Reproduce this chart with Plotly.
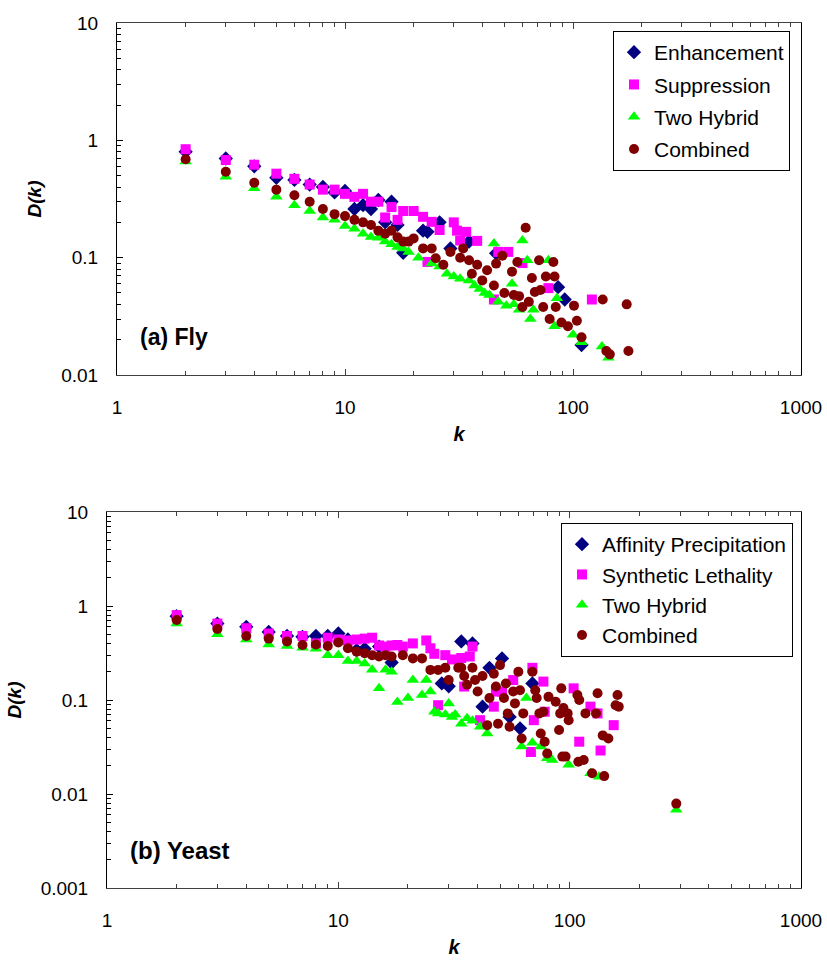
import plotly.graph_objects as go

# ---------------- Fly network: degree k vs D(k) ----------------
fly_enh_k = [2, 3, 4, 5, 6, 7, 8, 9, 10, 11, 12, 13, 14, 15, 16, 17, 18, 22, 23, 26, 29, 35, 46, 86, 92, 109]
fly_enh_d = [0.80, 0.70, 0.60, 0.48, 0.46, 0.42, 0.40, 0.36, 0.37, 0.26, 0.28, 0.26, 0.31, 0.20, 0.30, 0.19,
             0.11, 0.17, 0.166, 0.20, 0.12, 0.137, 0.109, 0.056, 0.044, 0.018]

fly_sup_k = [2, 3, 4, 5, 6, 7, 8, 9, 10, 11, 12, 13, 14, 15, 16, 17, 18, 20, 22, 23, 24, 26, 30, 31, 32, 34,
             38, 45, 47, 52, 60, 78, 121]
fly_sup_d = [0.84, 0.68, 0.62, 0.52, 0.47, 0.42, 0.38, 0.38, 0.35, 0.33, 0.35, 0.30, 0.30, 0.22, 0.27, 0.21,
             0.25, 0.25, 0.223, 0.092, 0.202, 0.172, 0.20, 0.17, 0.14, 0.166, 0.139, 0.044, 0.112, 0.112,
             0.09, 0.055, 0.044]

fly_y2h_k = [2, 3, 4, 5, 6, 7, 8, 9, 10, 11, 12, 13, 14, 15, 16, 17, 18, 19, 21, 24, 26, 28, 30, 32, 35, 37,
             39, 41, 43, 45, 47, 51, 54, 55, 58, 60, 63, 65, 67, 78, 83, 85, 100, 109, 134, 143]
fly_y2h_d = [0.66, 0.49, 0.39, 0.33, 0.28, 0.25, 0.22, 0.21, 0.186, 0.176, 0.16, 0.15, 0.148, 0.137, 0.13,
             0.123, 0.12, 0.112, 0.10, 0.089, 0.084, 0.073, 0.069, 0.066, 0.064, 0.058, 0.054, 0.05, 0.048,
             0.132, 0.042, 0.039, 0.06, 0.04, 0.036, 0.14, 0.095, 0.03, 0.036, 0.095, 0.026, 0.045, 0.022,
             0.019, 0.0175, 0.014]

fly_all_k = [2, 3, 4, 5, 6, 7, 8, 9, 10, 11, 12, 13, 14, 15, 16, 17, 18, 19, 20, 22, 24, 25, 27, 29, 32, 33,
             35, 36, 38, 40, 42, 45, 46, 49, 50, 54, 55, 57, 58, 60, 62, 64, 66, 68, 71, 72, 74, 76, 79, 82,
             83, 84, 89, 95, 101, 104, 109, 135, 140, 145, 172, 175]
fly_all_d = [0.69, 0.54, 0.435, 0.38, 0.34, 0.30, 0.26, 0.235, 0.226, 0.21, 0.20, 0.19, 0.17, 0.16, 0.17,
             0.149, 0.137, 0.137, 0.146, 0.12, 0.12, 0.099, 0.087, 0.112, 0.10, 0.12, 0.095, 0.073, 0.087,
             0.064, 0.078, 0.058, 0.089, 0.104, 0.05, 0.076, 0.048, 0.092, 0.047, 0.038, 0.18, 0.042, 0.067,
             0.051, 0.095, 0.053, 0.038, 0.069, 0.03, 0.092, 0.069, 0.038, 0.028, 0.026, 0.039, 0.029, 0.021,
             0.044, 0.016, 0.015, 0.040, 0.016]

# ---------------- Yeast network: degree k vs D(k) ----------------
yst_aff_k = [2, 3, 4, 5, 6, 7, 8, 9, 10, 11, 12, 13, 15, 17, 28, 30, 34, 38, 42, 45, 51, 55, 61, 69]
yst_aff_d = [0.78, 0.65, 0.60, 0.53, 0.48, 0.47, 0.48, 0.48, 0.51, 0.44, 0.34, 0.35, 0.37, 0.25, 0.15, 0.14,
             0.42, 0.40, 0.085, 0.22, 0.277, 0.066, 0.05, 0.15]

yst_syn_k = [2, 3, 4, 5, 6, 7, 8, 9, 10, 11, 12, 13, 14, 15, 16, 17, 18, 19, 21, 24, 25, 26, 27, 29, 31, 34,
             35, 37, 38, 41, 47, 48, 51, 57, 68, 69, 70, 77, 78, 104, 110, 123, 132, 136, 155]
yst_syn_d = [0.80, 0.65, 0.58, 0.51, 0.48, 0.48, 0.40, 0.46, 0.44, 0.43, 0.44, 0.45, 0.46, 0.38, 0.37, 0.38,
             0.385, 0.37, 0.40, 0.43, 0.355, 0.31, 0.088, 0.30, 0.27, 0.28, 0.139, 0.29, 0.37, 0.061, 0.085,
             0.123, 0.123, 0.163, 0.028, 0.22, 0.061, 0.157, 0.075, 0.133, 0.036, 0.085, 0.072, 0.029, 0.054]

yst_y2h_k = [2, 3, 4, 5, 6, 7, 8, 9, 10, 11, 12, 13, 14, 15, 16, 17, 18, 20, 21, 23, 24, 25, 26, 27, 29, 30,
             31, 32, 34, 36, 38, 41, 44, 62, 65, 69, 75, 80, 84, 99, 123, 134, 289]
yst_y2h_d = [0.65, 0.50, 0.44, 0.39, 0.375, 0.36, 0.35, 0.30, 0.30, 0.26, 0.26, 0.245, 0.21, 0.133, 0.21,
             0.20, 0.095, 0.105, 0.163, 0.113, 0.163, 0.123, 0.075, 0.072, 0.07, 0.092, 0.066, 0.07, 0.056,
             0.064, 0.06, 0.052, 0.044, 0.032, 0.105, 0.035, 0.032, 0.024, 0.023, 0.0205, 0.0166, 0.0153,
             0.0068]

yst_all_k = [2, 3, 4, 5, 6, 7, 8, 9, 10, 11, 12, 13, 14, 15, 16, 17, 19, 21, 23, 25, 27, 29, 30, 33, 34, 35,
             36, 38, 39, 40, 42, 44, 45, 47, 48, 49, 50, 52, 53, 54, 55, 57, 58, 60, 61, 62, 63, 69, 71, 72,
             74, 75, 77, 78, 80, 81, 87, 90, 91, 92, 93, 94, 96, 98, 99, 108, 109, 110, 115, 117, 125, 130,
             132, 139, 141, 147, 158, 161, 163, 289]
yst_all_d = [0.71, 0.57, 0.48, 0.45, 0.42, 0.385, 0.39, 0.375, 0.41, 0.355, 0.327, 0.315, 0.30, 0.29, 0.30,
             0.29, 0.30, 0.277, 0.277, 0.209, 0.209, 0.22, 0.163, 0.22, 0.22, 0.18, 0.145, 0.22, 0.163, 0.123,
             0.18, 0.054, 0.105, 0.19, 0.139, 0.056, 0.235, 0.105, 0.15, 0.072, 0.052, 0.123, 0.092, 0.20,
             0.127, 0.039, 0.072, 0.20, 0.127, 0.105, 0.072, 0.044, 0.075, 0.036, 0.027, 0.108, 0.096, 0.048,
             0.072, 0.133, 0.025, 0.082, 0.025, 0.072, 0.061, 0.113, 0.022, 0.10, 0.023, 0.072, 0.0166, 0.072,
             0.118, 0.042, 0.0155, 0.039, 0.088, 0.113, 0.085, 0.0079]

# ---------------- Styling ----------------
FONT = "Arial, Liberation Sans, sans-serif"
NAVY, MAGENTA, GREEN, MAROON = "#000080", "#FF00FF", "#00FF00", "#800000"
FRAME = "#404040"

fig = go.Figure()

def add_series(k, d, name, symbol, color, size, xa, ya, legend):
    fig.add_trace(go.Scatter(
        x=k, y=d, mode="markers", name=name, legendgroup=legend + name,
        marker=dict(symbol=symbol, color=color, size=size, line=dict(width=0)),
        xaxis=xa, yaxis=ya, legend=legend,
    ))

add_series(fly_enh_k, fly_enh_d, "Enhancement", "diamond", NAVY, 11, "x", "y", "legend")
add_series(fly_sup_k, fly_sup_d, "Suppression", "square", MAGENTA, 10, "x", "y", "legend")
add_series(fly_y2h_k, fly_y2h_d, "Two Hybrid", "triangle-up", GREEN, 11, "x", "y", "legend")
add_series(fly_all_k, fly_all_d, "Combined", "circle", MAROON, 10, "x", "y", "legend")

add_series(yst_aff_k, yst_aff_d, "Affinity Precipitation", "diamond", NAVY, 11, "x2", "y2", "legend2")
add_series(yst_syn_k, yst_syn_d, "Synthetic Lethality", "square", MAGENTA, 10, "x2", "y2", "legend2")
add_series(yst_y2h_k, yst_y2h_d, "Two Hybrid", "triangle-up", GREEN, 11, "x2", "y2", "legend2")
add_series(yst_all_k, yst_all_d, "Combined", "circle", MAROON, 10, "x2", "y2", "legend2")

W, H = 827, 961
top_dom_x = [117 / W, 801 / W]
top_dom_y = [1 - 375 / H, 1 - 23 / H]
bot_dom_x = [107 / W, 801 / W]
bot_dom_y = [1 - 888 / H, 1 - 512 / H]

tick_font = dict(family=FONT, size=19, color="black")

def k_axis(domain, anchor):
    # log k axis; framed on top with inward ticks, labels underneath
    return dict(
        type="log", range=[0, 3], domain=domain, anchor=anchor, automargin=False,
        tickvals=[1, 10, 100, 1000], ticktext=["1", "10", "100", "1000"],
        ticks="inside", ticklen=6, tickcolor=FRAME, mirror="ticks",
        minor=dict(ticks="inside", ticklen=4, tickcolor=FRAME, dtick="D1"),
        showgrid=False, zeroline=False,
        showline=True, linecolor=FRAME, linewidth=1,
        tickfont=tick_font, ticklabelstandoff=15,
        title=dict(text="<b><i>k</i></b>", font=dict(family=FONT, size=20, color="black"), standoff=10),
    )

def d_axis(domain, anchor, rng, vals, texts):
    return dict(
        type="log", range=rng, domain=domain, anchor=anchor, automargin=False,
        tickvals=vals, ticktext=texts,
        ticks="inside", ticklen=6, tickcolor="black", mirror=True,
        minor=dict(ticks="inside", ticklen=4, tickcolor="black", dtick="D1"),
        showgrid=False, zeroline=False, showline=True, linecolor="black", linewidth=1,
        tickfont=tick_font, ticklabelstandoff=14,
        title=dict(text="<b><i>D(k)</i></b>", font=dict(family=FONT, size=19, color="black"), standoff=14),
    )

legend_style = dict(
    font=dict(family=FONT, size=21, color="black"),
    bgcolor="white", bordercolor="black", borderwidth=1,
    xanchor="left", yanchor="top", itemsizing="trace",
)

fig.update_layout(
    width=W, height=H,
    margin=dict(l=0, r=0, t=0, b=0),
    paper_bgcolor="white", plot_bgcolor="white",
    font=dict(family=FONT, color="black"),
    xaxis=k_axis(top_dom_x, "y"),
    yaxis=d_axis(top_dom_y, "x", [-2, 1], [0.01, 0.1, 1, 10], ["0.01", "0.1", "1", "10"]),
    xaxis2=k_axis(bot_dom_x, "y2"),
    yaxis2=d_axis(bot_dom_y, "x2", [-3, 1], [0.001, 0.01, 0.1, 1, 10],
                  ["0.001", "0.01", "0.1", "1", "10"]),
    legend=dict(x=613 / W, y=1 - 31 / H, tracegroupgap=2, **legend_style),
    legend2=dict(x=561 / W, y=1 - 523 / H, tracegroupgap=0, **legend_style),
    showlegend=True,
)

# panel labels
fig.add_annotation(text="<b>(a) Fly</b>", xref="x domain", yref="y domain", x=0.03, y=0.108,
                   xanchor="left", yanchor="middle", showarrow=False,
                   font=dict(family=FONT, size=23, color="black"))
fig.add_annotation(text="<b>(b) Yeast</b>", xref="x2 domain", yref="y2 domain", x=0.03, y=0.101,
                   xanchor="left", yanchor="middle", showarrow=False,
                   font=dict(family=FONT, size=24, color="black"))

fig.write_html("out.html")
